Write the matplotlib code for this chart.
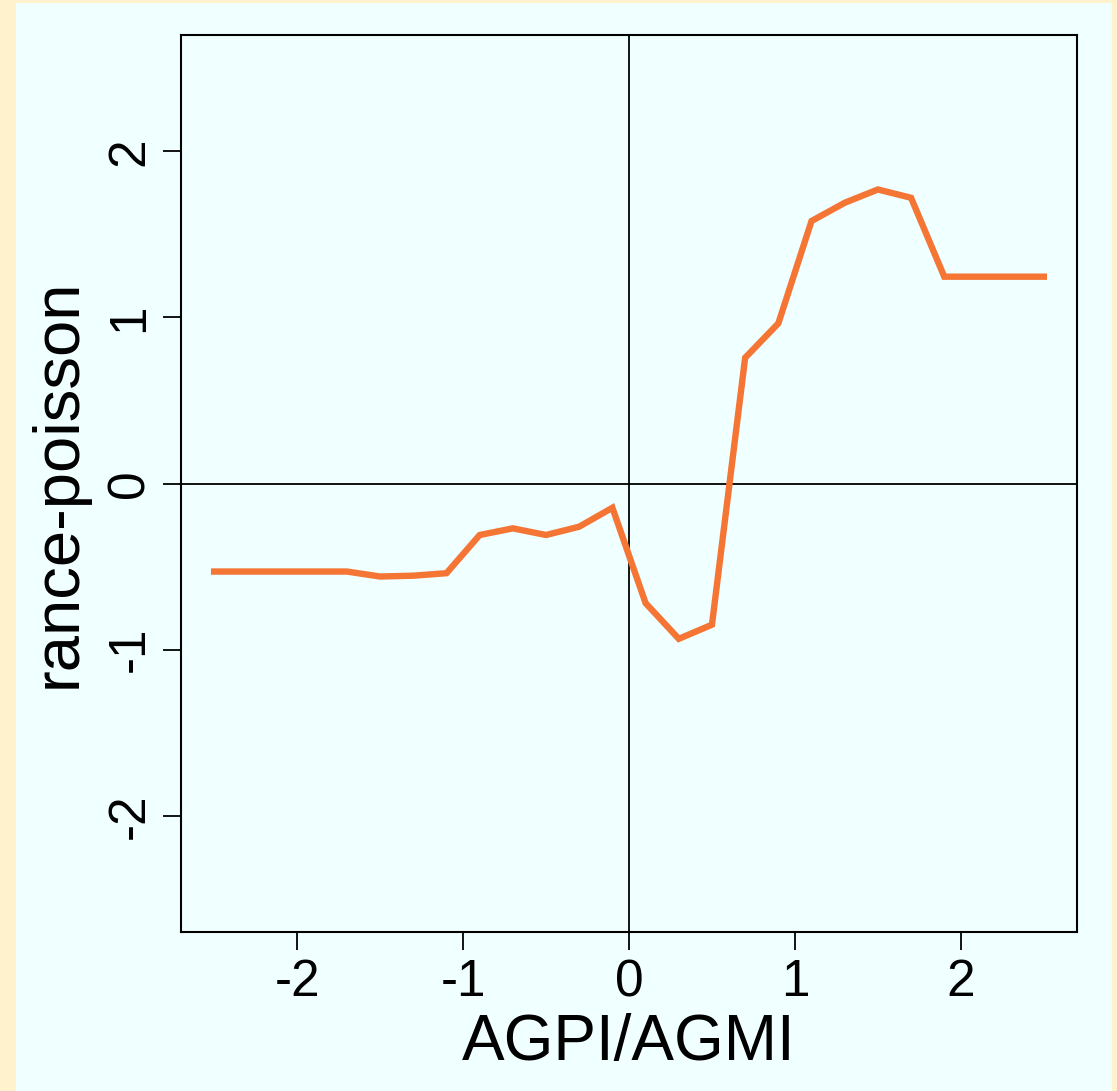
import matplotlib
matplotlib.use('Agg')
import matplotlib.pyplot as plt
from matplotlib.patches import Rectangle

# data, x steps of 0.2
x_vals = [-2.5, -2.3, -2.1, -1.9, -1.7, -1.5, -1.3, -1.1, -0.9, -0.7, -0.5, -0.3, -0.1,
          0.1, 0.3, 0.5, 0.7, 0.9, 1.1, 1.3, 1.5, 1.7, 1.9, 2.1, 2.3, 2.5]
y_vals = [-0.53, -0.53, -0.53, -0.53, -0.53, -0.56, -0.555, -0.54, -0.31, -0.27, -0.31, -0.26, -0.146,
          -0.72, -0.935, -0.85, 0.757, 0.964, 1.58, 1.69, 1.77, 1.72, 1.245, 1.245, 1.245, 1.245]
x_ticks = [-2, -1, 0, 1, 2]
y_ticks = [-2, -1, 0, 1, 2]

plt.rcParams['font.family'] = ['Liberation Sans', 'DejaVu Sans']

W, H = 1117, 1091
fig = plt.figure(figsize=(W / 100, H / 100), dpi=100)
fig.patch.set_facecolor('#FFF2CC')
# inner light cyan panel
fig.patches.append(Rectangle((16 / W, 0), (1112 - 16) / W, (H - 3) / H,
                             transform=fig.transFigure, facecolor='#F0FFFF',
                             edgecolor='none', zorder=-5))

ax = fig.add_axes([181 / W, 1 - 932 / H, (1077 - 181) / W, (932 - 35) / H])
ax.set_facecolor('#F0FFFF')
ax.axhline(0, color='black', lw=1.3, zorder=1)
ax.axvline(0, color='black', lw=1.3, zorder=1)
ax.plot(x_vals, y_vals, color='#F47534', lw=4.6, solid_joinstyle='miter', zorder=2)

ax.set_xlim(-2.7, 2.7)
ax.set_ylim(-2.7, 2.7)
ax.set_xticks(x_ticks)
ax.set_yticks(y_ticks)
ax.set_xticklabels([str(t) for t in x_ticks])
ax.set_yticklabels([str(t) for t in y_ticks], rotation=90, va='center')
ax.tick_params(length=13, width=1.3, labelsize=37, pad=6)
for s in ax.spines.values():
    s.set_linewidth(1.5)

ax.set_xlabel('AGPI/AGMI', fontsize=46, labelpad=4)
ax.set_ylabel('rance-poisson', fontsize=47, labelpad=12)

fig.savefig('out.png', dpi=100, facecolor=fig.get_facecolor())
